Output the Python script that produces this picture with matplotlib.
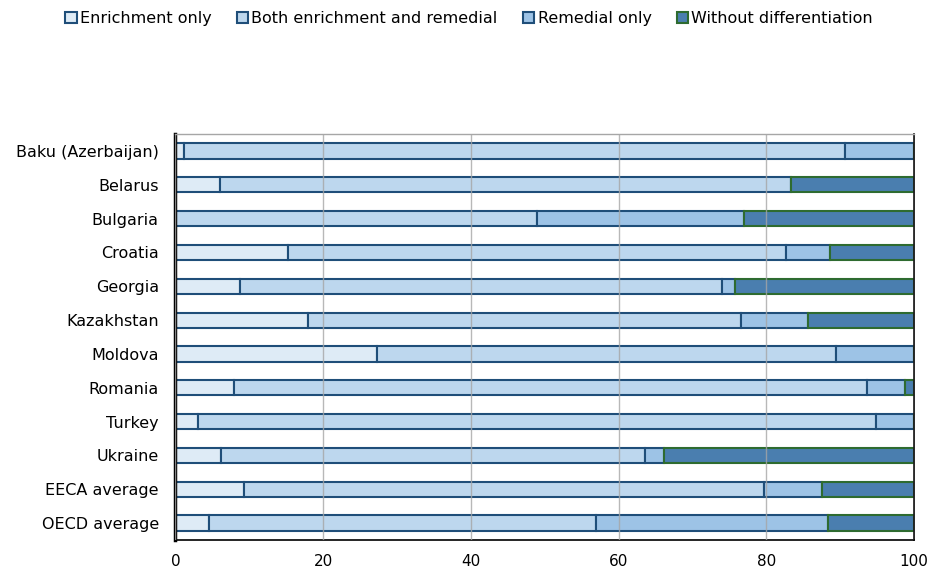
import matplotlib
matplotlib.use("Agg")
import matplotlib.pyplot as plt
import numpy as np

categories = ["Baku (Azerbaijan)", "Belarus", "Bulgaria", "Croatia", "Georgia",
              "Kazakhstan", "Moldova", "Romania", "Turkey", "Ukraine",
              "EECA average", "OECD average"]
series_names = ["Enrichment only", "Both enrichment and remedial",
                "Remedial only", "Without differentiation"]
enrichment = [1.2, 6.0, 0.0, 15.3, 8.8, 18.0, 27.3, 7.9, 3.0, 6.1, 9.3, 4.5]
both = [89.5, 77.4, 48.9, 67.4, 65.2, 58.6, 62.2, 85.7, 91.8, 57.5, 70.4, 52.4]
remedial = [9.3, 0.0, 28.1, 5.9, 1.7, 9.1, 10.5, 5.2, 5.2, 2.6, 7.9, 31.5]
without = [0.0, 16.6, 23.0, 11.4, 24.3, 14.3, 0.0, 1.2, 0.0, 33.8, 12.4, 11.6]
xticks = [0, 20, 40, 60, 80, 100]

colors = ["#DEEBF6", "#BDD7EE", "#9DC3E6", "#4A7EAF"]
edges = ["#1F4E79", "#1F4E79", "#1F4E79", "#2E6B30"]

plt.rcParams['font.family'] = ['DejaVu Sans']
fig = plt.figure(figsize=(9.31, 5.73), dpi=100)
ax = fig.add_axes([0.1885, 0.0576, 0.7932, 0.7084])

y = np.arange(len(categories))
left = np.zeros(len(categories))
handles = []
for vals, c, e, name in zip([enrichment, both, remedial, without], colors, edges, series_names):
    vals = np.array(vals)
    b = ax.barh(y, vals, left=left, height=0.45, color=c, edgecolor=e,
                linewidth=1.5, label=name, zorder=1)
    handles.append(b)
    left += vals

ax.set_ylim(len(categories) - 0.5, -0.5)
ax.set_xlim(0, 100)
ax.set_xticks(xticks)
ax.set_xticklabels([str(t) for t in xticks], fontsize=11)
ax.set_yticks(y)
ax.set_yticklabels(categories, fontsize=11.5)
ax.tick_params(axis='y', length=0, pad=12)
ax.tick_params(axis='x', length=0, pad=10)
ax.xaxis.grid(True, color="#A6A6A6", linewidth=1, alpha=0.8, zorder=3)
ax.set_axisbelow(False)
ax.spines['left'].set_linewidth(2.5)
ax.spines['left'].set_color('black')
ax.spines['bottom'].set_linewidth(1.2)
ax.spines['bottom'].set_color('black')
ax.spines['right'].set_linewidth(1.2)
ax.spines['right'].set_color('black')
ax.spines['top'].set_color('#A6A6A6')
ax.spines['top'].set_linewidth(1)

fig.legend(handles=handles, labels=series_names, loc='center', bbox_to_anchor=(0.504, 0.968),
           ncol=4, frameon=False, fontsize=11.5, handlelength=0.7, handleheight=0.7,
           handletextpad=0.2, columnspacing=1.6)

fig.savefig("out.png", dpi=100)
